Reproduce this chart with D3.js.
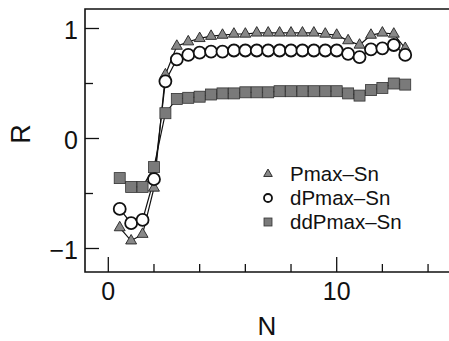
<!DOCTYPE html>
<html>
<head>
<meta charset="utf-8">
<script src="https://cdn.jsdelivr.net/npm/d3@7"></script>
<style>
  html, body { margin: 0; padding: 0; background: #fff; }
  svg { display: block; font-family: "Liberation Sans", Arial, sans-serif; }
</style>
</head>
<body>
<svg id="chart" width="449" height="341"></svg>
<script>
// N values (x)
const nValues = [0.5, 1, 1.5, 2, 2.5, 3, 3.5, 4, 4.5, 5, 5.5, 6, 6.5, 7, 7.5, 8, 8.5, 9, 9.5, 10, 10.5, 11, 11.5, 12, 12.5, 13];
// R values
const pmaxSn = [-0.81, -0.93, -0.87, -0.45, 0.58, 0.84, 0.88, 0.91, 0.93, 0.94, 0.95, 0.95, 0.96, 0.96, 0.96, 0.96, 0.96, 0.96, 0.95, 0.94, 0.89, 0.85, 0.94, 0.96, 0.95, 0.82];
const dPmaxSn = [-0.64, -0.77, -0.74, -0.37, 0.52, 0.72, 0.76, 0.78, 0.79, 0.79, 0.80, 0.80, 0.80, 0.80, 0.80, 0.80, 0.80, 0.80, 0.80, 0.80, 0.77, 0.74, 0.81, 0.82, 0.85, 0.76];
const ddPmaxSn = [-0.36, -0.44, -0.44, -0.26, 0.23, 0.36, 0.37, 0.38, 0.40, 0.41, 0.41, 0.42, 0.42, 0.42, 0.43, 0.43, 0.43, 0.43, 0.43, 0.43, 0.41, 0.39, 0.44, 0.46, 0.50, 0.49];
const seriesNames = ["Pmax\u2013Sn", "dPmax\u2013Sn", "ddPmax\u2013Sn"];
const xMajor = [0, 10];
const xMinor = [2, 4, 6, 8, 12, 14];
const yMajor = [-1, 0, 1];
const yMinor = [-0.5, 0.5];

const svg = d3.select('#chart');
const frame = { left: 85, top: 9, bottom: 272, right: 470 };

const x = d3.scaleLinear().domain([0, 10]).range([108.3, 336.7]);
const y = d3.scaleLinear().domain([-1, 1]).range([248.5, 28.5]);

const ink = '#111';

// frame (right side runs off the picture)
svg.append('path')
    .attr('d', `M${frame.right},${frame.top}H${frame.left}V${frame.bottom}H${frame.right}`)
    .attr('fill', 'none')
    .attr('stroke', ink)
    .attr('stroke-width', 1.6);

// inward ticks
const tickG = svg.append('g').attr('stroke', ink).attr('stroke-width', 1.3);
xMajor.forEach(v => tickG.append('line').attr('x1', x(v)).attr('x2', x(v)).attr('y1', frame.bottom).attr('y2', frame.bottom - 15));
xMinor.forEach(v => tickG.append('line').attr('x1', x(v)).attr('x2', x(v)).attr('y1', frame.bottom).attr('y2', frame.bottom - 8));
yMajor.forEach(v => tickG.append('line').attr('y1', y(v)).attr('y2', y(v)).attr('x1', frame.left).attr('x2', frame.left + 14));
yMinor.forEach(v => tickG.append('line').attr('y1', y(v)).attr('y2', y(v)).attr('x1', frame.left).attr('x2', frame.left + 8));

// tick labels
svg.selectAll('.x-label')
    .data(xMajor)
    .enter()
    .append('text')
    .attr('class', 'x-label')
    .attr('x', d => x(d))
    .attr('y', 300)
    .attr('text-anchor', 'middle')
    .style('font-size', '25px')
    .attr('fill', ink)
    .text(d => d);
svg.selectAll('.y-label')
    .data(yMajor)
    .enter()
    .append('text')
    .attr('class', 'y-label')
    .attr('x', 78)
    .attr('y', d => y(d) + 10)
    .attr('text-anchor', 'end')
    .style('font-size', '25px')
    .attr('fill', ink)
    .text(d => d < 0 ? '\u2212' + Math.abs(d) : d);

// axis titles
svg.append('text')
    .attr('x', 267)
    .attr('y', 335)
    .attr('text-anchor', 'middle')
    .style('font-size', '26px')
    .attr('fill', ink)
    .text('N');
svg.append('text')
    .attr('transform', 'translate(30,134) rotate(-90)')
    .attr('text-anchor', 'middle')
    .style('font-size', '27px')
    .attr('fill', ink)
    .text('R');

// lines
const line = vals => d3.line()
    .x((d, i) => x(nValues[i]))
    .y(d => y(d))(vals);
[ddPmaxSn, pmaxSn, dPmaxSn].forEach(vals => {
    svg.append('path')
        .attr('d', line(vals))
        .attr('fill', 'none')
        .attr('stroke', ink)
        .attr('stroke-width', 1.2);
});

// markers
const sq = 11;
svg.selectAll('.sq')
    .data(ddPmaxSn)
    .enter()
    .append('rect')
    .attr('class', 'sq')
    .attr('x', (d, i) => x(nValues[i]) - sq / 2)
    .attr('y', d => y(d) - sq / 2)
    .attr('width', sq)
    .attr('height', sq)
    .attr('fill', '#7a7a7a')
    .attr('stroke', '#333')
    .attr('stroke-width', 0.8);

const tri = d3.symbol().type(d3.symbolTriangle).size(52);
svg.selectAll('.tri')
    .data(pmaxSn)
    .enter()
    .append('path')
    .attr('class', 'tri')
    .attr('d', tri)
    .attr('transform', (d, i) => `translate(${x(nValues[i])},${y(d)})`)
    .attr('fill', '#888')
    .attr('stroke', '#222')
    .attr('stroke-width', 0.9);

svg.selectAll('.circ')
    .data(dPmaxSn)
    .enter()
    .append('circle')
    .attr('class', 'circ')
    .attr('cx', (d, i) => x(nValues[i]))
    .attr('cy', d => y(d))
    .attr('r', 6)
    .attr('fill', '#fff')
    .attr('stroke', ink)
    .attr('stroke-width', 1.8);

// legend
const legend = svg.append('g').attr('transform', 'translate(268,0)');
const rows = [174, 198, 222];
legend.append('path')
    .attr('d', d3.symbol().type(d3.symbolTriangle).size(32))
    .attr('transform', `translate(0,${rows[0]})`)
    .attr('fill', '#888')
    .attr('stroke', '#222')
    .attr('stroke-width', 0.9);
legend.append('circle')
    .attr('cx', 0).attr('cy', rows[1]).attr('r', 4)
    .attr('fill', '#fff').attr('stroke', ink).attr('stroke-width', 1.8);
legend.append('rect')
    .attr('x', -4).attr('y', rows[2] - 4).attr('width', 8).attr('height', 8)
    .attr('fill', '#7a7a7a').attr('stroke', '#333').attr('stroke-width', 0.8);
legend.selectAll('.leg-text')
    .data(seriesNames)
    .enter()
    .append('text')
    .attr('class', 'leg-text')
    .attr('x', 22)
    .attr('y', (d, i) => rows[i] + 7)
    .style('font-size', '20.5px')
    .attr('fill', ink)
    .text(d => d);
</script>
</body>
</html>
